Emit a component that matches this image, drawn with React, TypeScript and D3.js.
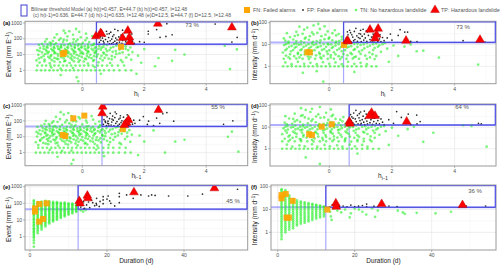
import React from 'react';
import * as d3 from 'd3';

const W = 500, H = 270;
const H_T = 0.457, H1_T = 0.636, E_T = 44.7, I_T = 12.48, D_T = 12.5;
type Pt = [number, number];

// ---------- panel (a): h_i vs Event ----------
const aTN: Pt[] = [
[-1.38,3.1],[-1.05,2.8],[-0.72,3.3],[-0.41,2.9],[-0.12,3.4],[0.18,2.7],[0.52,3.2],[0.9,2.9],[1.3,3.3],
[-1.48,4.2],[-1.22,4.8],[-0.98,4.4],[-0.78,5.1],[-0.55,4.1],[-0.33,4.7],[-0.08,4.3],[0.12,5.0],[0.38,4.5],[0.66,4.2],[0.95,4.9],[1.25,4.4],[1.58,4.7],
[-1.32,6.5],[-1.1,7.2],[-0.9,6.1],[-0.68,6.8],[-0.46,7.4],[-0.25,6.3],[-0.02,7.0],[0.22,6.6],[0.47,7.3],[0.72,6.2],[1.05,6.9],[1.42,6.4],
[-1.42,9.5],[-1.2,10.8],[-1.0,9.2],[-0.8,11.2],[-0.6,9.8],[-0.38,10.5],[-0.18,9.4],[0.03,11.0],[0.26,9.7],[0.5,10.3],[0.78,9.1],[1.1,10.9],[1.5,9.6],
[-1.3,13.5],[-1.08,14.8],[-0.88,13.1],[-0.66,15.2],[-0.44,13.8],[-0.22,14.5],[0.0,13.2],[0.2,15.0],[0.42,14.1],[0.68,13.4],[0.98,14.9],[1.3,13.7],[1.62,14.3],
[-1.45,19],[-1.18,20.5],[-0.96,18.2],[-0.74,21],[-0.52,19.3],[-0.3,18.6],[-0.1,20.8],[0.12,19.6],[0.35,18.4],[0.6,20.3],[0.88,19.1],[1.2,20.6],[1.48,18.8],
[-1.36,26],[-1.12,27.5],[-0.9,25.2],[-0.68,28],[-0.46,26.4],[-0.24,25.5],[-0.04,27.8],[0.18,26.2],[0.4,25.1],[0.62,27.2],[0.92,26.6],[1.25,25.4],[1.55,27.9],
[-1.25,34],[-1.02,38],[-0.8,33],[-0.58,39],[-0.36,35],[-0.14,37],[0.08,33.5],[0.3,38.5],[0.55,34.5],[0.8,40],[1.1,36],[1.4,33],
[-1.3,48],[-1.05,58],[-0.85,52],[-0.62,64],[-0.4,50],[-0.2,68],[0.02,55],[0.22,62],[0.38,48],[-0.95,72],[-0.5,78],[-0.12,46],
[-1.15,95],[-0.9,120],[-0.7,105],[-0.48,140],[-0.28,92],[-0.05,125],[0.15,110],[0.32,150],[-0.6,88],
[-0.82,190],[-0.55,230],[-0.3,180],[-0.1,270],[0.12,210],[-0.42,300],[-0.6,330],[-0.2,420],
[-1.45,2],[-1.3,2],[-1.17,2],[-1.03,2],[-0.9,2],[-0.76,2],[-0.62,2],[-0.5,2],[-0.36,2],[-0.22,2],[-0.08,2],[0.06,2],[0.2,2],[0.34,2],[0.5,2],[0.64,2],[0.8,2],[0.96,2],[1.15,2],[1.35,2],
[-1.47,1],[-1.33,1],[-1.2,1],[-1.06,1],[-0.93,1],[-0.8,1],[-0.66,1],[-0.53,1],[-0.4,1],[-0.27,1],[-0.13,1],[0.0,1],[0.14,1],[0.28,1],[0.42,1],[0.56,1],[0.7,1],[0.86,1],[1.02,1],[1.2,1],[1.4,1],[1.58,1],
[1.8,8.4],[2.0,22],[2.46,6],[3.0,20],[3.3,10],[2.35,1.8],[2.9,4],[4.77,1.2],[4.6,36],[4.99,21],[1.75,0.6],[-0.18,0.36],[-0.13,0.2],[-0.7,0.5],[0.6,0.6],[1.9,3],
[-1.0,1.5],[-0.3,1.4],[0.4,1.6],[-0.7,1.3],
[-1.22,3.7],[-0.9,3.6],[-0.58,3.8],[-0.27,3.7],[0.05,3.6],[0.35,3.9],
[-1.4,5.6],[-1.05,5.8],[-0.83,5.5],[-0.6,5.7],[-0.38,5.9],[-0.15,5.6],[0.08,5.5],[0.3,5.8],[0.58,5.6],[0.85,5.5],
[-1.25,8.1],[-1.02,7.9],[-0.78,8.3],[-0.55,8.0],[-0.33,7.8],[-0.1,8.2],[0.15,8.0],[0.38,7.9],[0.62,8.3],[0.95,8.0],
[-1.12,11.9],[-0.9,12.1],[-0.7,11.6],[-0.48,12.2],[-0.27,11.7],[-0.05,12.0],[0.16,11.8],[0.4,12.3],[0.7,11.6],[1.2,12.0],
[-1.38,16.5],[-1.15,16.2],[-0.92,16.8],[-0.7,16.4],[-0.48,16.9],[-0.26,16.1],[-0.06,16.6],[0.18,16.3],[0.45,16.8],[0.8,16.2],[1.08,16.6],
[-1.25,23],[-1.0,22.6],[-0.78,23.4],[-0.56,22.8],[-0.34,23.2],[-0.12,22.7],[0.08,23.3],[0.3,22.9],[0.52,23.1],[0.76,22.8],[1.4,23],
[-1.15,30],[-0.92,29.5],[-0.7,30.5],[-0.48,29.8],[-0.25,30.3],[-0.02,29.6],[0.2,30.4],[0.44,29.9],[0.68,30.2],[1.0,30],
[-1.4,41],[-1.12,42],[-0.9,43],[-0.68,41.5],[-0.45,42.5],[-0.24,41],[-0.03,43],[0.18,42],[0.36,41.5],[0.7,42.5],[1.2,41],
[-1.2,65],[-0.75,82],[-0.3,58],[0.1,80],[-1.0,52],[-0.15,90]
];
const aFP: Pt[] = [
[0.55,60],[0.6,80],[0.65,110],[0.7,55],[0.72,150],[0.75,90],[0.8,200],[0.82,65],[0.85,120],[0.88,48],[0.9,75],[0.92,260],[0.95,95],[0.98,140],[1.0,58],[1.02,180],[1.05,70],[1.08,110],[1.1,50],[1.12,85],[1.15,330],[1.18,130],[1.2,62],[1.22,95],[1.25,170],[1.28,52],[1.3,78],[1.33,120],[1.36,240],[1.4,65],[1.42,100],[1.45,55],[1.48,150],[1.5,80],[1.55,60],[1.58,110],[1.62,70],[1.68,52],[0.62,170],[0.78,300],[0.68,70],[1.05,400],[0.95,50],[1.3,350],[0.58,130],[1.12,56],[0.87,210],[1.38,90],[1.6,200],[1.5,48],
[1.85,65],[2.0,60],[2.13,300],[2.13,200],[2.4,380],[2.73,900],[2.51,123],[2.7,140],[2.9,180],[4.29,860],[4.83,62],[5.0,123]
];
const aFN: Pt[] = [[-0.63,10.8],[-0.58,13],[1.25,31]];
const aTP: Pt[] = [[0.44,143],[0.59,230],[0.62,200],[1.47,325],[1.3,112],[1.52,123],[1.54,62],[2.44,900],[4.83,530]];

// ---------- panel (b): h_i vs Intensity ----------
const bTN: Pt[] = [
[-1.4,1.5],[-1.0,1.6],[-0.6,1.45],[-0.2,1.55],[0.2,1.5],[0.6,1.6],[1.0,1.45],
[-1.45,2.2],[-1.25,2.2],[-1.05,2.25],[-0.85,2.2],[-0.65,2.15],[-0.45,2.2],[-0.25,2.25],[-0.05,2.2],[0.15,2.2],[0.35,2.15],[0.55,2.2],[0.75,2.25],[0.95,2.2],[1.2,2.2],[1.45,2.15],
[-1.38,3.1],[-1.12,2.9],[-0.9,3.3],[-0.68,2.8],[-0.42,3.2],[-0.18,3.0],[0.05,3.3],[0.3,2.9],[0.58,3.2],[0.85,2.8],[1.15,3.1],[1.5,3.0],
[-1.48,4.3],[-1.22,4.9],[-1.0,4.1],[-0.78,4.6],[-0.55,5.0],[-0.32,4.2],[-0.08,4.8],[0.15,4.4],[0.4,4.9],[0.68,4.1],[0.95,4.7],[1.28,4.3],[1.65,4.6],
[-1.35,6.3],[-1.1,7.1],[-0.88,6.0],[-0.64,6.8],[-0.4,7.3],[-0.16,6.2],[0.08,6.9],[0.32,6.4],[0.56,7.2],[0.82,6.1],[1.12,6.7],[1.45,7.0],[1.85,6.4],
[-1.44,9.4],[-1.2,8.6],[-0.97,9.8],[-0.74,8.8],[-0.5,9.5],[-0.27,8.5],[-0.03,9.9],[0.2,8.9],[0.45,9.3],[0.7,8.4],[1.0,9.6],[1.3,8.8],[1.6,9.2],[2.05,9],
[-1.3,11.5],[-1.05,11.0],[-0.8,12.0],[-0.55,11.2],[-0.3,11.8],[-0.05,11.1],[0.2,11.7],[0.42,11.3],[0.65,11.9],[0.9,11.0],[1.2,11.6],[1.5,11.2],[1.78,11.8],
[-1.4,15],[-1.15,17],[-0.9,14],[-0.65,16.5],[-0.4,14.5],[-0.15,17.5],[0.1,15.5],[0.32,14.2],
[-1.25,22],[-1.0,27],[-0.75,21],[-0.5,29],[-0.25,24],[0.0,20.5],[0.22,26],[0.4,22.5],
[-1.05,38],[-0.8,48],[-0.55,36],[-0.3,52],[-0.05,40],[0.18,45],[-0.7,60],
[-0.5,75],[-0.35,88],[-0.15,68],[-0.95,66],
[-1.47,1],[-1.33,1],[-1.2,1],[-1.06,1],[-0.93,1],[-0.79,1],[-0.66,1],[-0.52,1],[-0.38,1],[-0.25,1],[-0.11,1],[0.03,1],[0.17,1],[0.3,1],[0.44,1],[0.58,1],[0.72,1],[0.87,1],[1.02,1],[1.18,1],[1.35,1],[1.5,1],
[2.79,4.9],[3.0,5.2],[2.4,8],[4.75,1.2],[-0.19,0.2],[-0.84,0.5],[-0.4,0.6],[2.2,3],[3.5,2.5],[1.9,1.6],[0.8,0.55],[2.6,10],
[-1.3,2.6],[-0.95,2.55],[-0.6,2.65],[-0.28,2.6],[0.05,2.55],[0.4,2.65],[0.8,2.6],[1.3,2.55],
[-1.25,3.6],[-1.0,3.7],[-0.78,3.55],[-0.55,3.65],[-0.3,3.6],[-0.05,3.7],[0.2,3.55],[0.45,3.65],[0.72,3.6],[1.0,3.7],[1.38,3.6],
[-1.4,5.5],[-1.15,5.6],[-0.92,5.45],[-0.7,5.6],[-0.47,5.5],[-0.23,5.65],[0.0,5.45],[0.25,5.6],[0.5,5.5],[0.78,5.6],[1.05,5.45],[1.4,5.55],
[-1.28,7.8],[-1.05,7.9],[-0.82,7.7],[-0.58,7.85],[-0.35,7.75],[-0.1,7.9],[0.12,7.7],[0.38,7.85],[0.62,7.8],[0.9,7.7],[1.22,7.9],[1.55,7.8],
[-1.38,10.3],[-1.12,10.5],[-0.9,10.2],[-0.66,10.4],[-0.42,10.3],[-0.18,10.5],[0.06,10.2],[0.3,10.4],[0.55,10.3],[0.8,10.5],[1.1,10.2],[1.4,10.4],[1.7,10.3],
[-1.3,13.5],[-1.05,14.5],[-0.78,18.5],[-0.52,13.2],[-0.28,15.5],[-0.02,18.5],[0.22,13.6],[0.4,17],[-1.45,19],
[-1.35,33],[-1.1,24.5],[-0.85,31],[-0.62,24],[-0.38,34],[-0.12,28],[0.1,33],[0.3,30],
[-1.2,1.25],[-0.8,1.3],[-0.4,1.25],[0.0,1.3],[0.4,1.25],[0.8,1.3],[1.2,1.25]
];
const bFP: Pt[] = [
[0.5,14],[0.55,20],[0.6,28],[0.62,16],[0.68,35],[0.7,13],[0.75,22],[0.8,40],[0.82,17],[0.88,25],[0.9,14],[0.95,32],[0.98,19],[1.0,45],[1.02,13.5],[1.05,24],[1.1,16],[1.12,30],[1.15,20],[1.2,14],[1.22,38],[1.25,26],[1.3,17],[1.32,13],[1.35,22],[1.4,30],[1.42,15],[1.45,19],[1.5,24],[1.55,14],[1.6,18],[1.65,13.5],[1.7,21],[1.75,15],[0.65,45],[0.85,55],[1.08,50],[0.72,28],[0.93,21],[1.18,42],[1.38,13],[1.52,35],[1.62,28],[0.58,38],[1.28,60],[1.0,30],[0.78,15],
[1.85,20],[2.0,16],[2.26,48],[2.41,37],[2.5,37],[2.8,13.5],[2.2,26],[1.95,30],[4.27,15],[4.97,13],[2.6,14]
];
const bFN: Pt[] = [[-0.7,4.4],[-0.62,4.4],[0.47,9.5]];
const bTP: Pt[] = [[1.3,48],[1.56,53],[1.51,28],[1.46,19],[0.57,15],[0.6,14],[2.45,15],[4.81,16.5]];

// ---------- panel (c): h_(i-1) vs Event ----------
const cTN: Pt[] = [
[-1.42,3.0],[-1.1,3.4],[-0.78,2.8],[-0.46,3.2],[-0.15,2.9],[0.16,3.3],[0.48,2.8],[0.85,3.1],[1.25,3.4],
[-1.5,4.5],[-1.26,4.1],[-1.02,4.9],[-0.8,4.3],[-0.58,5.0],[-0.36,4.4],[-0.12,4.8],[0.1,4.2],[0.34,4.9],[0.6,4.4],[0.9,4.6],[1.2,4.1],[1.55,4.8],
[-1.36,6.2],[-1.14,7.0],[-0.93,6.6],[-0.7,7.3],[-0.5,6.1],[-0.28,6.9],[-0.05,6.4],[0.18,7.2],[0.44,6.3],[0.7,7.0],[1.0,6.5],[1.38,7.1],
[-1.46,10.2],[-1.24,9.3],[-1.03,11.0],[-0.83,9.6],[-0.62,10.6],[-0.41,9.1],[-0.2,10.9],[0.0,9.5],[0.23,10.4],[0.47,9.2],[0.74,10.8],[1.06,9.7],[1.45,10.3],
[-1.34,14.2],[-1.12,13.3],[-0.9,15.1],[-0.7,13.6],[-0.47,14.6],[-0.26,13.2],[-0.04,15.0],[0.17,13.9],[0.4,14.7],[0.64,13.1],[0.95,14.4],[1.27,15.2],[1.6,13.5],
[-1.48,20],[-1.2,18.5],[-0.98,21],[-0.77,19.2],[-0.55,20.4],[-0.33,18.3],[-0.12,20.9],[0.1,18.9],[0.32,20.2],[0.57,18.6],[0.85,20.7],[1.17,19.4],[1.45,18.1],
[-1.38,25.5],[-1.15,27],[-0.93,26.1],[-0.71,27.6],[-0.49,25.3],[-0.27,26.8],[-0.06,25.7],[0.15,27.4],[0.38,26],[0.6,25.2],[0.9,27.1],[1.22,26.3],[1.52,25.8],
[-1.28,35],[-1.05,33],[-0.83,38],[-0.6,34],[-0.38,39],[-0.16,33.5],[0.06,36.5],[0.28,34],[0.52,38],[0.78,35],[1.08,39],[1.38,34],
[-1.32,50],[-1.08,62],[-0.88,47],[-0.65,56],[-0.42,70],[-0.22,52],[0.0,60],[0.2,47],[0.42,66],[0.58,54],[-0.98,75],[-0.55,80],
[-1.18,100],[-0.93,92],[-0.72,130],[-0.5,110],[-0.3,95],[-0.08,140],[0.12,105],[0.35,120],[0.55,90],
[-0.85,180],[-0.6,250],[-0.35,200],[-0.12,175],[0.1,240],[-0.45,310],[-0.7,350],[0.3,200],
[-1.42,2],[-1.28,2],[-1.14,2],[-1.0,2],[-0.87,2],[-0.73,2],[-0.6,2],[-0.46,2],[-0.33,2],[-0.19,2],[-0.05,2],[0.09,2],[0.23,2],[0.37,2],[0.52,2],[0.68,2],[0.84,2],[1.0,2],[1.2,2],[1.4,2],
[-1.5,1],[-1.36,1],[-1.22,1],[-1.09,1],[-0.96,1],[-0.82,1],[-0.69,1],[-0.56,1],[-0.42,1],[-0.29,1],[-0.16,1],[-0.02,1],[0.12,1],[0.26,1],[0.4,1],[0.54,1],[0.68,1],[0.83,1],[1.0,1],[1.18,1],[1.38,1],[1.56,1],
[3.0,5],[3.3,6.5],[2.67,1],[4.83,21],[4.7,10],[5.04,1.15],[2.0,5],[1.85,12],[2.3,25],[-0.29,0.35],[-0.35,0.2],[-0.8,0.55],[0.7,0.6],[1.8,0.7],
[-1.05,1.5],[-0.35,1.35],[0.45,1.55],[-0.65,1.3],
[-1.18,3.7],[-0.86,3.9],[-0.54,3.6],[-0.22,3.8],[0.08,3.7],[0.4,3.6],
[-1.36,5.7],[-1.1,5.5],[-0.88,5.9],[-0.65,5.6],[-0.42,5.5],[-0.2,5.8],[0.03,5.7],[0.26,5.5],[0.52,5.9],[0.8,5.6],
[-1.3,8.0],[-1.07,8.3],[-0.84,7.9],[-0.6,8.2],[-0.38,8.0],[-0.15,7.8],[0.1,8.3],[0.33,8.0],[0.58,7.9],[0.9,8.2],
[-1.16,11.7],[-0.95,12.2],[-0.73,11.9],[-0.52,12.0],[-0.3,11.6],[-0.09,12.2],[0.12,11.8],[0.36,12.0],[0.66,11.7],[1.15,12.1],
[-1.42,16.3],[-1.2,16.8],[-0.97,16.1],[-0.75,16.6],[-0.52,16.3],[-0.3,16.9],[-0.1,16.2],[0.14,16.7],[0.42,16.4],[0.75,16.8],[1.05,16.2],
[-1.28,22.8],[-1.05,23.3],[-0.82,22.6],[-0.6,23.1],[-0.38,22.9],[-0.16,23.4],[0.04,22.7],[0.26,23.2],[0.5,22.8],[0.72,23.3],[1.35,22.9],
[-1.2,29.8],[-0.96,30.4],[-0.74,29.6],[-0.52,30.2],[-0.3,29.9],[-0.06,30.5],[0.16,29.7],[0.4,30.1],[0.65,29.8],[0.98,30.3],
[-1.45,42],[-1.16,41],[-0.94,42.5],[-0.72,43],[-0.5,41.5],[-0.28,42],[-0.07,41.2],[0.14,42.8],[0.34,41.6],[0.55,43],[1.15,42],
[-1.22,63],[-0.8,85],[-0.35,57],[0.15,78],[-1.05,50],[-0.2,92]
];
const cFP: Pt[] = [
[0.68,60],[0.7,120],[0.72,250],[0.75,80],[0.78,50],[0.8,180],[0.83,95],[0.85,65],[0.88,140],[0.9,300],[0.93,55],[0.95,85],[0.98,200],[1.0,110],[1.02,48],[1.05,160],[1.08,70],[1.1,280],[1.12,90],[1.15,52],[1.18,130],[1.2,62],[1.23,210],[1.25,78],[1.28,100],[1.3,56],[1.33,170],[1.35,88],[1.4,120],[1.42,60],[1.45,240],[1.48,75],[1.5,50],[1.55,140],[1.58,90],[1.62,62],[1.66,110],[0.74,95],[0.86,48],[1.06,360],[0.96,130],[1.38,52],[1.7,70],[0.82,70],[1.22,150],
[1.97,185],[2.14,95],[2.4,150],[2.73,330],[2.95,95],[2.1,60],[2.5,70],[2.6,280],[4.56,61],[4.86,100],[1.85,110],[2.3,50]
];
const cFN: Pt[] = [[-0.29,145],[0.065,213],[-0.63,13],[-0.55,11],[1.31,30]];
const cTP: Pt[] = [[0.66,780],[0.64,300],[1.49,114],[1.43,77],[1.36,55],[2.46,485]];

// ---------- panel (d): h_(i-1) vs Intensity ----------
const dTN: Pt[] = [
[-1.35,1.55],[-0.95,1.45],[-0.55,1.6],[-0.15,1.5],[0.25,1.45],[0.65,1.55],[1.05,1.5],
[-1.5,2.2],[-1.3,2.2],[-1.1,2.2],[-0.9,2.25],[-0.7,2.2],[-0.5,2.15],[-0.3,2.2],[-0.1,2.2],[0.1,2.25],[0.3,2.2],[0.5,2.2],[0.7,2.15],[0.9,2.2],[1.1,2.2],[1.35,2.2],
[-1.42,2.9],[-1.17,3.2],[-0.94,2.8],[-0.72,3.3],[-0.47,3.0],[-0.22,3.2],[0.02,2.9],[0.26,3.3],[0.52,3.0],[0.8,3.2],[1.1,2.9],[1.45,3.2],
[-1.5,4.7],[-1.26,4.2],[-1.04,4.9],[-0.82,4.4],[-0.6,4.1],[-0.37,4.8],[-0.12,4.3],[0.11,5.0],[0.36,4.5],[0.62,4.9],[0.9,4.2],[1.22,4.8],[1.6,4.4],
[-1.4,6.9],[-1.15,6.2],[-0.92,7.2],[-0.69,6.5],[-0.45,6.0],[-0.2,7.0],[0.04,6.4],[0.28,7.3],[0.52,6.2],[0.78,6.8],[1.08,6.1],[1.4,6.9],[1.8,6.5],
[-1.46,8.8],[-1.22,9.7],[-1.0,8.5],[-0.77,9.4],[-0.54,8.7],[-0.31,9.9],[-0.07,8.6],[0.16,9.5],[0.4,8.9],[0.66,9.8],[0.94,8.5],[1.25,9.3],[1.55,8.8],[2.0,9.4],
[-1.33,11.2],[-1.08,11.9],[-0.84,11.0],[-0.6,11.6],[-0.35,11.3],[-0.1,12.0],[0.15,11.1],[0.38,11.7],[0.6,11.2],[0.86,11.8],[1.15,11.0],[1.46,11.5],[1.75,11.3],
[-1.42,16],[-1.18,14.3],[-0.93,17.5],[-0.68,15],[-0.43,16.8],[-0.18,14.2],[0.07,17],[0.3,15.2],[0.52,14],
[-1.28,25],[-1.03,21],[-0.78,28],[-0.53,23],[-0.28,27],[-0.03,21.5],[0.2,24],[0.45,29],
[-1.1,42],[-0.85,36],[-0.6,50],[-0.35,39],[-0.1,46],[0.12,37],[-0.75,62],
[-0.55,70],[-0.3,85],[-0.9,75],[0.05,66],
[-1.5,1],[-1.36,1],[-1.22,1],[-1.08,1],[-0.95,1],[-0.81,1],[-0.68,1],[-0.54,1],[-0.4,1],[-0.27,1],[-0.13,1],[0.01,1],[0.15,1],[0.29,1],[0.43,1],[0.57,1],[0.72,1],[0.88,1],[1.05,1],[1.22,1],[1.4,1],[1.58,1],
[3.0,2.1],[3.32,5.5],[4.27,12.2],[4.54,11.3],[5.02,1.25],[-0.3,0.2],[-0.75,0.4],[2.2,4],[2.5,8],[1.9,1.5],[0.9,0.6],[2.7,10.5],
[-1.25,2.6],[-0.9,2.65],[-0.55,2.55],[-0.2,2.6],[0.15,2.65],[0.5,2.55],[0.9,2.6],[1.3,2.6],
[-1.3,3.65],[-1.05,3.55],[-0.83,3.7],[-0.6,3.6],[-0.35,3.65],[-0.1,3.55],[0.15,3.7],[0.4,3.6],[0.66,3.65],[0.95,3.55],[1.32,3.7],
[-1.35,5.55],[-1.1,5.45],[-0.87,5.6],[-0.65,5.5],[-0.42,5.65],[-0.18,5.45],[0.05,5.6],[0.3,5.5],[0.56,5.55],[0.84,5.45],[1.12,5.6],[1.45,5.5],
[-1.32,7.75],[-1.08,7.9],[-0.86,7.7],[-0.62,7.85],[-0.38,7.8],[-0.14,7.7],[0.08,7.9],[0.33,7.75],[0.58,7.85],[0.86,7.7],[1.18,7.85],[1.5,7.75],
[-1.4,10.4],[-1.15,10.2],[-0.93,10.5],[-0.7,10.3],[-0.46,10.4],[-0.22,10.2],[0.02,10.5],[0.26,10.3],[0.5,10.4],[0.76,10.2],[1.05,10.5],[1.35,10.3],[1.65,10.4],
[-1.35,13.5],[-1.1,18],[-0.83,13.2],[-0.57,19],[-0.32,13.8],[-0.06,15.5],[0.18,13.4],[0.42,18.5],[0.6,15.5],
[-1.4,32],[-1.15,24],[-0.9,33],[-0.66,24.5],[-0.42,31],[-0.16,28],[0.08,32],[0.35,22],
[-1.18,1.25],[-0.78,1.3],[-0.38,1.25],[0.02,1.3],[0.42,1.25],[0.82,1.3],[1.22,1.25]
];
const dFP: Pt[] = [
[0.66,14],[0.7,20],[0.72,30],[0.75,16],[0.78,45],[0.8,13.5],[0.83,24],[0.86,18],[0.9,35],[0.92,14],[0.95,27],[0.98,20],[1.0,50],[1.02,15],[1.05,22],[1.08,32],[1.1,17],[1.13,13],[1.15,25],[1.18,40],[1.2,19],[1.22,14],[1.25,28],[1.3,16],[1.33,22],[1.38,13.5],[1.42,18],[1.45,26],[1.5,15],[1.55,20],[1.6,14],[1.65,24],[1.7,17],[1.75,13],[0.85,60],[1.12,55],[0.68,38],[0.96,42],[1.28,35],[1.58,30],[1.0,13],[1.4,45],[0.76,26],
[2.15,52],[2.52,40],[2.79,36],[2.9,18],[2.8,14],[1.9,22],[2.05,15],[2.3,28],[4.76,15],[4.85,14],[2.6,13]
];
const dFN: Pt[] = [[-0.64,4.7],[-0.55,4.3],[-0.24,10.5],[0.08,13.5]];
const dTP: Pt[] = [[1.35,46],[1.46,33],[1.28,33],[0.64,18],[0.66,14.5],[2.47,18]];

// ---------- panel (e): Duration vs Event ----------
const eColD: number[] = [1,2,3,4,5,6,7,8,9,10,11,12];
const eColE: number[][] = [
[0.25,0.42,0.6,0.82,1,1.25,1.5,1.85,2.2,2.7,3.2,4,4.9,6,7.3,9,11,13,16.5,20,24,30,36,44,53,65,80,98,125,150],
[1.6,2.1,2.6,3.2,3.9,4.7,5.7,7,8.3,10,12.2,14.6,17.8,21,26,31,38,46,57,69,84,100,118],
[2.6,3.3,4.1,5,6.1,7.4,8.9,10.6,12.8,15.3,18.4,22.5,27,33,40,49,59,72,86,104,128],
[4.1,5.1,6.3,7.6,9.2,11.1,13.3,15.8,18.9,22.6,27.2,32.5,39.5,47,57,70,84,101,122,140],
[6.1,7.4,8.9,10.7,12.8,15.3,18.3,21.9,26.2,31.4,37.6,45,54,65,79,95,112,130],
[8.2,9.8,11.7,14,16.8,20.2,24.2,29,35,42,50.5,61,73,88,104,121],
[10.3,12.3,14.7,17.6,21,25.2,30.3,36.3,43.5,52,62.5,75,90,105,118],
[13.2,15.8,18.9,22.7,27.2,32.6,39,46.8,56,67,80,95,108],
[16.3,19.5,23.4,28,33.6,40.2,48,57.5,68.8,82,96,109],
[20.4,24.4,29.2,35,42,50.2,60,72,86,99],
[25.3,30.2,36.1,43.2,51.6,61.7,73.7,86,96],
[30.5,36.4,43.5,52,62,74,86]
];
const eTNextra: Pt[] = [[13.2,38],[13.8,32],[14.5,40]];
const eFP: Pt[] = [
[12.8,100],[13.2,60],[13.5,75],[13.9,126],[14.2,50],[14.7,80],[15.5,55],[16,158],[16.3,110],[17.2,100],[17.3,200],[17.3,80],[18,65],[19,250],[19,160],[19,95],[20.3,275],[20.7,140],[21,100],[22,70],[23.2,400],[23.2,250],[23.2,110],[25.1,320],[26.8,200],[28.8,320],[30.8,275],[31.6,320],[32.5,300],[36,275],[41,275],[44.8,360],[48.3,800],[53.9,700],[15.2,120],[18.2,130],[14,48],[16.8,72],[20,180]
];
const eFN: Pt[] = [[1.3,50],[1.3,32],[2.4,90],[4.3,100],[2.4,8],[3.4,11.5]];
const eTP: Pt[] = [[12.8,138],[13,100],[14.9,290],[15,200],[27,460],[47.9,800]];

// ---------- panel (f): Duration vs Intensity ----------
const fColD: number[] = [1,2,3,4,5,6,7,8,9,10,11,12];
const fColI: number[][] = [
[0.5,0.64,0.8,1,1.22,1.47,1.77,2.12,2.55,3.05,3.65,4.4,5.25,6.3,7.6,9.1,11,13.2,15.8,19,23,27.5,33,40,48,58,70,78],
[1,1.24,1.52,1.85,2.25,2.7,3.25,3.9,4.7,5.6,6.7,8.1,9.7,11.6,14,16.8,20.1,24.2,29,34.8,41.8,50,60,71],
[1.3,1.6,1.96,2.4,2.92,3.55,4.3,5.2,6.3,7.6,9.2,11.1,13.4,16.2,19.5,23.5,28.3,34,42],
[1.5,1.85,2.27,2.78,3.4,4.15,5.05,6.15,7.5,9.1,11.1,13.5,16.4,20,24.2,29],
[2,2.43,2.95,3.58,4.35,5.28,6.4,7.8,9.45,11.5,13.9,16.9,20.5,25],
[2.4,2.9,3.5,4.25,5.15,6.25,7.6,9.2,11.1,13.5,16.4,19.8,22.5],
[2.6,3.15,3.8,4.6,5.6,6.8,8.2,9.95,12.05,14.6,17.6,20.5],
[3,3.63,4.4,5.32,6.45,7.8,9.45,11.45,13.85,16.8,19],
[3.5,4.23,5.12,6.2,7.5,9.07,11,13.3,16.1,17.8],
[4,4.85,5.87,7.1,8.6,10.4,12.6,15.2,16.2],
[4.5,5.45,6.6,8,9.7,11.7,14.2,14.9],
[5,6.05,7.3,8.85,10.7,12.95,13.6]
];
const fTNextra: Pt[] = [[13.6,8],[13.8,5],[14.5,11],[15.5,9],[16.5,7.5],[17.5,10],[18.7,4.5],[19,6.8],[20,11],[21.1,10],[22,8],[23,6],[24.5,11.5],[25.3,4.8],[26,9],[31.2,8.9],[32.5,7.5],[33,6.5],[36.1,7.2],[41,6.8],[45,8],[14,3.5],[16,12]];
const fFP: Pt[] = [[13.5,13],[14.9,14.3],[16,13.5],[17,14.3],[18,13.2],[19,15.7],[20,13.6],[21,14],[23.1,17.4],[23.1,13.5],[25,14],[26,13.2],[28.9,14.3],[31,13.6],[49,14.3],[54,14.3],[14.2,16],[22,15]];
const fFN: Pt[] = [[1,43],[2.1,48],[1,31],[3.9,24],[2.3,4.4],[2.9,4.4],[12.9,10]];
const fTP: Pt[] = [[15.1,18.7],[15.2,13.3],[27,17.4],[48,15.7]];

const pctLabels = ['73 %', '73 %', '55 %', '64 %', '45 %', '36 %'];
const hTicks = [0, 2, 4];
const dTicks = [0, 20, 40];
const eTicks = [1, 10, 100, 1000];
const iTicks = [1, 10, 100];

const colPts = (ds: number[], vs: number[][]): Pt[] => ds.flatMap((d, i) => vs[i].map(v => [d, v] as Pt));

interface Panel {
  id: string; x0: number; x1: number; y0: number; y1: number;
  xd: [number, number]; yd: [number, number]; xt: number[]; yt: number[]; xminor: number[];
  tx: number; ty: number; tn: Pt[]; fp: Pt[]; fn: Pt[]; tp: Pt[]; pct: string; px: number; py: number;
  yTitle: 'E' | 'I'; xTitle: 'h' | 'h1' | 'D';
}

const panels: Panel[] = [
  { id: 'a', x0: 25, x1: 247.7, y0: 21.3, y1: 83.7, xd: [-1.85, 5.34], yd: [0.141, 1280], xt: hTicks, yt: eTicks, xminor: [-1, 1, 3, 5], tx: H_T, ty: E_T, tn: aTN, fp: aFP, fn: aFN, tp: aTP, pct: pctLabels[0], px: 192, py: 27, yTitle: 'E', xTitle: 'h' },
  { id: 'b', x0: 270, x1: 496, y0: 21.3, y1: 83.7, xd: [-1.89, 5.32], yd: [0.159, 116], xt: hTicks, yt: iTicks, xminor: [-1, 1, 3, 5], tx: H_T, ty: I_T, tn: bTN, fp: bFP, fn: bFN, tp: bTP, pct: pctLabels[1], px: 463, py: 29, yTitle: 'I', xTitle: 'h' },
  { id: 'c', x0: 25, x1: 247.7, y0: 104, y1: 165.7, xd: [-1.85, 5.34], yd: [0.151, 1150], xt: hTicks, yt: eTicks, xminor: [-1, 1, 3, 5], tx: H1_T, ty: E_T, tn: cTN, fp: cFP, fn: cFN, tp: cTP, pct: pctLabels[2], px: 218, py: 109, yTitle: 'E', xTitle: 'h1' },
  { id: 'd', x0: 270, x1: 496, y0: 104, y1: 166, xd: [-1.89, 5.32], yd: [0.160, 117], xt: hTicks, yt: iTicks, xminor: [-1, 1, 3, 5], tx: H1_T, ty: I_T, tn: dTN, fp: dFP, fn: dFN, tp: dTP, pct: pctLabels[3], px: 462, py: 109, yTitle: 'I', xTitle: 'h1' },
  { id: 'e', x0: 25, x1: 247.7, y0: 185, y1: 250, xd: [-1.3, 56.55], yd: [0.158, 1260], xt: dTicks, yt: eTicks, xminor: [10, 30, 50], tx: D_T, ty: E_T, tn: [...colPts(eColD, eColE), ...eTNextra], fp: eFP, fn: eFN, tp: eTP, pct: pctLabels[4], px: 233, py: 203, yTitle: 'E', xTitle: 'D' },
  { id: 'f', x0: 271, x1: 496, y0: 185, y1: 250, xd: [-1.74, 56.7], yd: [0.168, 119], xt: dTicks, yt: iTicks, xminor: [10, 30, 50], tx: D_T, ty: I_T, tn: [...colPts(fColD, fColI), ...fTNextra], fp: fFP, fn: fFN, tp: fTP, pct: pctLabels[5], px: 475, py: 193, yTitle: 'I', xTitle: 'D' },
];

const FONT = 'Liberation Sans, Arial, Helvetica, sans-serif';
const triPath = d3.symbol(d3.symbolTriangle, 34)() as string;
const GREEN = '#1ef01e';

function PanelView({ p }: { p: Panel }) {
  const x = d3.scaleLinear().domain(p.xd).range([p.x0, p.x1]);
  const y = d3.scaleLog().domain(p.yd).range([p.y1, p.y0]);
  const clipId = `clip-${p.id}`;
  const txp = x(p.tx), typ = y(p.ty);
  const left = p.x0 < 100;
  const yTitleX = left ? 11 : 257;
  const cy = (p.y0 + p.y1) / 2 + 2;
  const cx = (p.x0 + p.x1) / 2;
  const xTitleY = p.y1 + 12;
  const yMinor: number[] = [];
  for (let i = 0; i < p.yt.length - 1; i++) yMinor.push(Math.sqrt(p.yt[i] * p.yt[i + 1]));
  return (
    <g>
      <defs>
        <clipPath id={clipId}><rect x={p.x0} y={p.y0} width={p.x1 - p.x0} height={p.y1 - p.y0} /></clipPath>
      </defs>
      <rect x={p.x0} y={p.y0} width={p.x1 - p.x0} height={p.y1 - p.y0} fill="#fff" />
      {p.xminor.map(v => <line key={'xm' + v} x1={x(v)} x2={x(v)} y1={p.y0} y2={p.y1} stroke="#f2f2f2" strokeWidth={0.5} />)}
      {yMinor.map(v => <line key={'ym' + v} x1={p.x0} x2={p.x1} y1={y(v)} y2={y(v)} stroke="#f2f2f2" strokeWidth={0.5} />)}
      {p.xt.map(v => <line key={'xg' + v} x1={x(v)} x2={x(v)} y1={p.y0} y2={p.y1} stroke="#e6e6e6" strokeWidth={0.7} />)}
      {p.yt.map(v => <line key={'yg' + v} x1={p.x0} x2={p.x1} y1={y(v)} y2={y(v)} stroke="#e6e6e6" strokeWidth={0.7} />)}
      <g clipPath={`url(#${clipId})`}>
        <line x1={p.x0} x2={p.x1} y1={typ} y2={typ} stroke="#7b7bff" strokeOpacity={0.6} strokeWidth={2} />
        <line x1={txp} x2={txp} y1={p.y0} y2={p.y1} stroke="#7b7bff" strokeOpacity={0.65} strokeWidth={1.2} />
        {p.tn.map((d, i) => <circle key={'tn' + i} cx={x(d[0])} cy={y(d[1])} r={1.35} fill={GREEN} fillOpacity={0.58} />)}
        {p.fp.map((d, i) => <circle key={'fp' + i} cx={x(d[0])} cy={y(d[1])} r={0.85} fill="#2a2a2a" />)}
        <rect x={txp} y={p.y0 + 0.5} width={p.x1 - txp - 0.5} height={typ - p.y0 - 0.5} fill="none" stroke="#4f4fe0" strokeWidth={1.2} />
        {p.fn.map((d, i) => <rect key={'fn' + i} x={x(d[0]) - 3} y={y(d[1]) - 3} width={6} height={6} fill="#ffa500" fillOpacity={0.9} />)}
        {p.tp.map((d, i) => <path key={'tp' + i} d={triPath} transform={`translate(${x(d[0])},${y(d[1])})`} fill="#ff0000" stroke="#b00000" strokeWidth={0.4} />)}
      </g>
      <rect x={p.x0} y={p.y0} width={p.x1 - p.x0} height={p.y1 - p.y0} fill="none" stroke="#9a9a9a" strokeWidth={1} />
      <line x1={txp} x2={p.x1} y1={p.y0 + 0.6} y2={p.y0 + 0.6} stroke="#6a6ae0" strokeOpacity={0.7} strokeWidth={0.8} />
      <line x1={p.x1 - 0.6} x2={p.x1 - 0.6} y1={p.y0} y2={typ} stroke="#5a5ae8" strokeWidth={1.3} />
      {p.xt.map(v => (
        <g key={'xt' + v}>
          <line x1={x(v)} x2={x(v)} y1={p.y1} y2={p.y1 + 2} stroke="#888" strokeWidth={0.6} />
          <text x={x(v)} y={p.y1 + 7} fontSize={5} fill="#4d4d4d" textAnchor="middle" fontFamily={FONT}>{v}</text>
        </g>
      ))}
      {p.yt.map(v => (
        <g key={'yt' + v}>
          <line x1={p.x0 - 2} x2={p.x0} y1={y(v)} y2={y(v)} stroke="#888" strokeWidth={0.6} />
          <text x={p.x0 - 3} y={y(v) + 1.7} fontSize={5} fill="#4d4d4d" textAnchor="end" fontFamily={FONT}>{v}</text>
        </g>
      ))}
      <text x={p.px} y={p.py} fontSize={6} fill="#555" textAnchor="middle" fontFamily={FONT}>{p.pct}</text>
      <text x={left ? 3 : 251} y={p.y0 + 4} fontSize={6} fontWeight="bold" fill="#111" fontFamily={FONT}>({p.id})</text>
      <text transform={`translate(${yTitleX},${cy}) rotate(-90)`} fontSize={6.5} fill="#222" textAnchor="middle" fontFamily={FONT}>
        {p.yTitle === 'E' ? 'Event (mm E' : 'Intensity (mm d'}
        <tspan dy={-2} fontSize={4.5}>−1</tspan>
        <tspan dy={2}>)</tspan>
      </text>
      {p.xTitle === 'D' ? (
        <text x={cx} y={p.y1 + 13} fontSize={6.5} fill="#222" textAnchor="middle" fontFamily={FONT}>Duration (d)</text>
      ) : (
        <text x={cx} y={xTitleY} fontSize={6.5} fill="#222" textAnchor="middle" fontFamily={FONT}>
          h<tspan dy={1.5} fontSize={4.5}>{p.xTitle === 'h' ? 'i' : 'i−1'}</tspan>
        </text>
      )}
    </g>
  );
}

export default function App() {
  return (
    <svg width={W} height={H} viewBox={`0 0 ${W} ${H}`} style={{ position: 'absolute', left: 0, top: 0, background: '#fff' }}>
      <rect x={0} y={0} width={W} height={H} fill="#fff" />
      <rect x={21} y={5} width={6} height={11} fill="none" stroke="#4040d0" strokeWidth={1} />
      <text x={31} y={10.5} fontSize={4.6} fill="#555" fontFamily={FONT} textLength={156} lengthAdjust="spacingAndGlyphs">
        Bilinear threshold Model  (a) h(t)=0.457, E=44.7  (b) h(t)=0.457, I=12.48
      </text>
      <text x={33} y={16.5} fontSize={4.6} fill="#555" fontFamily={FONT} textLength={198} lengthAdjust="spacingAndGlyphs">
        (c) h(t-1)=0.636, E=44.7  (d) h(t-1)=0.635, I=12.48  (e)D=12.5, E=44.7  (f) D=12.5, I=12.48
      </text>
      <rect x={244} y={7} width={6} height={6} fill="#ffa500" />
      <text x={253} y={12} fontSize={5.4} fill="#555" fontFamily={FONT}>FN: Failed alarms</text>
      <circle cx={303} cy={10} r={0.9} fill="#2a2a2a" />
      <text x={307} y={12} fontSize={5.4} fill="#555" fontFamily={FONT}>FP: False alarms</text>
      <circle cx={356} cy={10} r={1.3} fill={GREEN} fillOpacity={0.65} />
      <text x={360} y={12} fontSize={5.4} fill="#555" fontFamily={FONT}>TN: No hazardous landslide</text>
      <path d={triPath} transform="translate(435,10)" fill="#ff0000" stroke="#b00000" strokeWidth={0.4} />
      <text x={441} y={12} fontSize={5.4} fill="#555" fontFamily={FONT}>TP: Hazardous landslide</text>
      {panels.map(p => <PanelView key={p.id} p={p} />)}
    </svg>
  );
}
